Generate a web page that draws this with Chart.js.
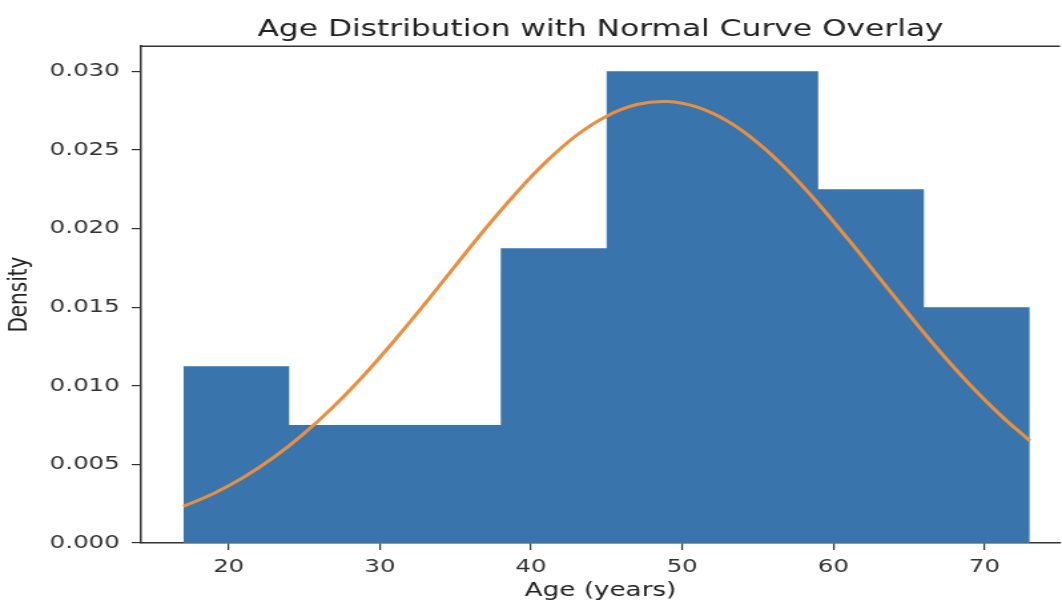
<!DOCTYPE html>
<html>
<head>
<meta charset="utf-8">
<script src="https://cdn.jsdelivr.net/npm/chart.js@4.4.1/dist/chart.umd.min.js"></script>
<style>
    html, body { margin: 0; padding: 0; background: #fff; overflow: hidden; }
    /* the reference picture is stretched sideways, so draw narrow and stretch */
    #wrap { width: 798px; height: 601px; transform: scaleX(1.3308); transform-origin: 0 0; }
</style>
</head>
<body>
<div id="wrap"><canvas id="histChart"></canvas></div>
<script>
// --- DATA ---
const binEdges = [17, 24, 31, 38, 45, 52, 59, 66, 73];
const binDensity = [0.01125, 0.0075, 0.0075, 0.01875, 0.0300, 0.0300, 0.0225, 0.0150];

const curveAges = [17, 19, 21, 23, 25, 27, 29, 31, 33, 35, 37, 39, 41, 43, 45,
                   47, 49, 51, 53, 55, 57, 59, 61, 63, 65, 67, 69, 71, 73];
const curveDensity = [0.00233, 0.00315, 0.00419, 0.00546, 0.00698, 0.00874, 0.01073, 0.01292,
                      0.01524, 0.01764, 0.02001, 0.02224, 0.02425, 0.02592, 0.02715, 0.02789,
                      0.02808, 0.02772, 0.02683, 0.02546, 0.02368, 0.02159, 0.01930, 0.01692,
                      0.01454, 0.01224, 0.01011, 0.00819, 0.00650];

const xTicks = [20, 30, 40, 50, 60, 70];
const yTicks = [0, 0.005, 0.010, 0.015, 0.020, 0.025, 0.030];

// step outline of the histogram (last edge repeats the last bin)
const histPoints = binEdges.map((e, i) => ({ x: e, y: binDensity[Math.min(i, binDensity.length - 1)] }));
const curvePoints = curveAges.map((a, i) => ({ x: a, y: curveDensity[i] }));

const inkColor = '#333333';

// top spine (matplotlib frame)
const topSpine = {
    id: 'topSpine',
    afterDraw(chart) {
        const { ctx, chartArea } = chart;
        ctx.save();
        ctx.strokeStyle = inkColor;
        ctx.lineWidth = 1.5;
        ctx.beginPath();
        ctx.moveTo(chartArea.left, chartArea.top);
        ctx.lineTo(chartArea.right, chartArea.top);
        ctx.stroke();
        ctx.restore();
    }
};

new Chart(document.getElementById('histChart'), {
    type: 'line',
    data: {
        datasets: [
            {
                label: 'Normal curve',
                data: curvePoints,
                borderColor: '#e8903f',
                borderWidth: 3,
                pointRadius: 0,
                tension: 0.4,
                fill: false
            },
            {
                label: 'Histogram',
                data: histPoints,
                stepped: 'before',
                borderWidth: 0,
                borderColor: 'rgba(0,0,0,0)',
                backgroundColor: '#3a74ad',
                pointRadius: 0,
                fill: 'origin'
            }
        ]
    },
    options: {
        responsive: true,
        maintainAspectRatio: false,
        animation: false,
        layout: { padding: 0 },
        plugins: {
            legend: { display: false },
            tooltip: { enabled: false },
            title: {
                display: true,
                fullSize: false,
                text: 'Age Distribution with Normal Curve Overlay',
                color: '#222',
                font: { family: 'DejaVu Sans', size: 23.5, weight: 'normal' },
                padding: { top: 16, bottom: 2 }
            }
        },
        scales: {
            x: {
                type: 'linear',
                min: 14.2,
                max: 75.0,
                afterBuildTicks: s => { s.ticks = xTicks.map(v => ({ value: v })); },
                afterFit: s => { s.height = 58; },
                ticks: {
                    color: '#333',
                    font: { family: 'DejaVu Sans', size: 18.4 },
                    padding: 6,
                    maxRotation: 0
                },
                grid: { drawOnChartArea: false, drawTicks: true, tickLength: 7, color: inkColor, lineWidth: 1.2 },
                border: { display: true, color: inkColor, width: 1.5 },
                title: {
                    display: true,
                    text: 'Age (years)',
                    color: '#222',
                    font: { family: 'DejaVu Sans', size: 19.7, lineHeight: 1.0 },
                    padding: { top: 0, bottom: 0 }
                }
            },
            y: {
                min: 0,
                max: 0.0316,
                afterBuildTicks: s => { s.ticks = yTicks.map(v => ({ value: v })); },
                afterFit: s => { s.width = 106; },
                ticks: {
                    color: '#333',
                    font: { family: 'DejaVu Sans', size: 18.4 },
                    padding: 9,
                    callback: v => v.toFixed(3)
                },
                grid: { drawOnChartArea: false, drawTicks: true, tickLength: 7, color: inkColor, lineWidth: 1.2 },
                border: { display: true, color: inkColor, width: 1.5 },
                title: {
                    display: true,
                    text: 'Density',
                    color: '#222',
                    font: { family: 'DejaVu Sans', size: 20 },
                    padding: { top: 3, bottom: 0 }
                }
            }
        }
    },
    plugins: [topSpine]
});
</script>
</body>
</html>
